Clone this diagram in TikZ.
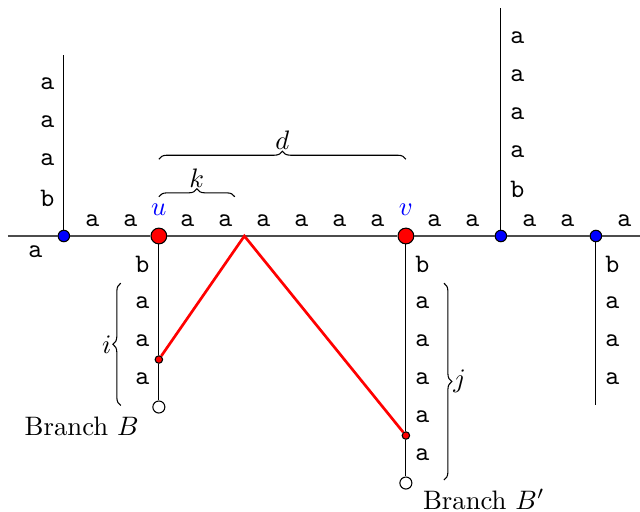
\documentclass[tikz,border=0pt]{standalone}
\usetikzlibrary{decorations.pathreplacing,positioning}

\begin{document}
\begin{tikzpicture}[x=0.5cm,y=0.5cm,
    bigdot/.style={circle,draw,fill=red,inner sep=0pt,minimum size=5.9pt},
    bluedot/.style={circle,draw,fill=blue,inner sep=0pt,minimum size=4.3pt},
    reddot/.style={circle,draw,fill=red,inner sep=0pt,minimum size=2.8pt},
    enddot/.style={circle,draw,fill=white,inner sep=0pt,minimum size=4.5pt},
    letter/.style={font=\ttfamily},
    brc/.style={decorate,decoration={brace,amplitude=3pt}}]
  \useasboundingbox (-4.18,-7.26) rectangle (12.66,6.21);

  % vertices on the main line
  \node[bluedot] (b1) at (-2.5,0) {};
  \node[bigdot,label={[text=blue,label distance=1pt]above:$u$}] (u) at (0,0) {};
  \node[bigdot,label={[text=blue,label distance=1pt]above:$v$}] (v) at (6.5,0) {};
  \node[bluedot] (b2) at (9,0) {};
  \node[bluedot] (b3) at (11.5,0) {};
  \coordinate (wl) at (-3.97,0);
  \coordinate (er) at (12.66,0);
  \coordinate (pk) at (2.25,0);

  % branch ends
  \node[reddot] (r1) at (0,-3.25) {};
  \node[enddot] (o1) at (0,-4.5) {};
  \node[reddot] (r2) at (6.5,-5.25) {};
  \node[enddot] (o2) at (6.5,-6.5) {};
  \coordinate (t1) at (-2.5,4.75);
  \coordinate (t2) at (9,6);
  \coordinate (e3) at (11.5,-4.45);

  \draw[black!70] (wl) -- (b1) -- (u) -- (v) -- (b2) -- (b3) -- (er);
  \draw (b1) -- (t1);
  \draw (b2) -- (t2);
  \draw (b3) -- (e3);
  \draw (u) -- (r1) -- (o1);
  \draw (v) -- (r2) -- (o2);
  \draw[red,line width=1pt] (r1) -- (pk) -- (r2);

  % letters
  \foreach \x [count=\n] in {-1.75,-0.75,0.75,1.75,2.75,3.75,4.75,5.75,7.25,8.25,9.75,10.75,12.25}
    \node[letter,above] (h\n) at (\x,0) {a};
  \node[letter,below] (h0) at (-3.25,0) {a};
  \node[letter,left] (lb) at (-2.5,1) {b};
  \foreach \y [count=\n] in {2,3,4}
    \node[letter,left] (la\n) at (-2.5,\y) {a};
  \node[letter,right] (rb) at (9,1.22) {b};
  \foreach \y [count=\n] in {2.22,3.22,4.22,5.22}
    \node[letter,right] (ra\n) at (9,\y) {a};
  \node[letter,left] (ub) at (0,-0.75) {b};
  \foreach \y [count=\n] in {1.75,2.75,3.75}
    \node[letter,left] (ua\n) at (0,-\y) {a};
  \node[letter,right] (vb) at (6.5,-0.75) {b};
  \foreach \y [count=\n] in {1.75,2.75,3.75,4.75,5.75}
    \node[letter,right] (va\n) at (6.5,-\y) {a};
  \node[letter,right] (wb) at (11.5,-0.75) {b};
  \foreach \y [count=\n] in {1.75,2.75,3.75}
    \node[letter,right] (wa\n) at (11.5,-\y) {a};

  % braces
  \draw[brc] (0,1.03) -- (2,1.03) node[midway,above] (lk) {$k$};
  \draw[brc] (0,2.02) -- (6.5,2.02) node[midway,above] (ld) {$d$};
  \draw[brc] (-1.0,-4.46) -- (-1.0,-1.24) node[midway,left] (li) {$i$};
  \draw[brc] (7.5,-1.24) -- (7.5,-6.42) node[midway,right] (lj) {$j$};

  \node (brB) at (-2.03,-5.0) {Branch $B$};
  \node (brBp) at (8.55,-6.93) {Branch $B'$};
\end{tikzpicture}
\end{document}
